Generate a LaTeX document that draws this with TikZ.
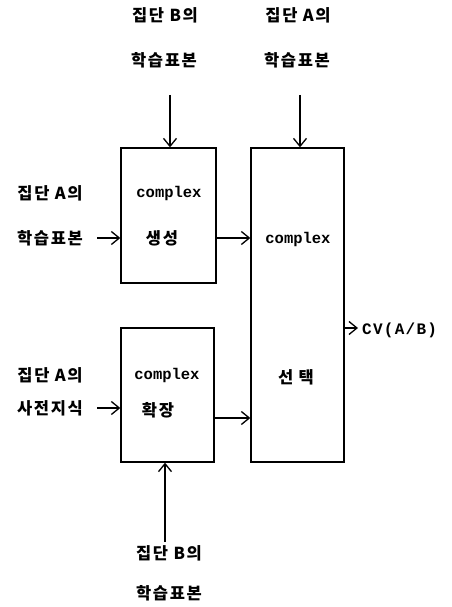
\documentclass[tikz,border=0pt]{standalone}
\usepackage{fontspec}
\usetikzlibrary{arrows.meta}
\newfontfamily\krfont[LetterSpace=10]{Noto Sans CJK KR}
\newfontfamily\monofont{Liberation Mono}
\newfontfamily\cvfont[LetterSpace=8]{Liberation Mono}
\begin{document}
\begin{tikzpicture}[x=1pt,y=-1pt,
  kr/.style={font=\krfont\bfseries\fontsize{16.5}{16.5}\selectfont, inner sep=0pt, anchor=center},
  lat/.style={font=\monofont\bfseries\fontsize{15.5}{15.5}\selectfont, inner sep=0pt, anchor=center},
  boxnode/.style={draw, line width=1.3pt, inner sep=0pt},
  arr/.style={line width=1.3pt, -{Straight Barb[length=8pt,width=13pt,line width=1.3pt]}}]
\useasboundingbox (0,0) rectangle (451,607);
% boxes
\node[boxnode, minimum width=95pt, minimum height=135pt] (gen) at (168.5,215.5) {};
\node[boxnode, minimum width=93pt, minimum height=134pt] (ext) at (167.5,395) {};
\node[boxnode, minimum width=93pt, minimum height=314pt] (sel) at (297.5,305) {};
% box texts
\node[lat] (genc) at (169,193) {complex};
\node[kr] (gent) at (162,238) {생성};
\node[lat] (extc) at (167,375) {complex};
\node[kr] (extt) at (158,410) {확장};
\node[lat] (selc) at (298,239) {complex};
\node[kr] (selt) at (296,377) {선 택};
% top labels
\node[kr] (tb1) at (165,15) {집단 B의};
\node[kr] (tb2) at (164,60) {학습표본};
\node[kr] (ta1) at (298,15) {집단 A의};
\node[kr] (ta2) at (297,60) {학습표본};
% left labels
\node[kr] (la1) at (50,193) {집단 A의};
\node[kr] (la2) at (50,238) {학습표본};
\node[kr] (lk1) at (50,375) {집단 A의};
\node[kr] (lk2) at (50,408) {사전지식};
% bottom labels
\node[kr] (bb1) at (169,553) {집단 B의};
\node[kr] (bb2) at (169,593) {학습표본};
% output label
\node[font=\cvfont\bfseries\fontsize{16}{16}\selectfont, inner sep=0pt, anchor=west] (cv) at (362,330) {CV(A/B)};
% coordinates
\coordinate (tgs) at (170,95);
\coordinate (tss) at (300,95);
\coordinate (lgs) at (97,238);
\coordinate (les) at (97,408);
\coordinate (bes) at (165,542);
\coordinate (m1) at (216,238);
\coordinate (m2) at (214,418);
\coordinate (out) at (358,328);
% connectors
\draw[arr] (tgs) -- (tgs |- gen.north);
\draw[arr] (tss) -- (tss |- sel.north);
\draw[arr] (lgs) -- (lgs -| gen.west);
\draw[arr] (les) -- (les -| ext.west);
\draw[arr] (bes) -- (bes |- ext.south);
\draw[arr] (gen.east |- m1) -- (sel.west |- m1);
\draw[arr] (ext.east |- m2) -- (sel.west |- m2);
\draw[arr] (sel.east |- out) -- (out);
\end{tikzpicture}
\end{document}
